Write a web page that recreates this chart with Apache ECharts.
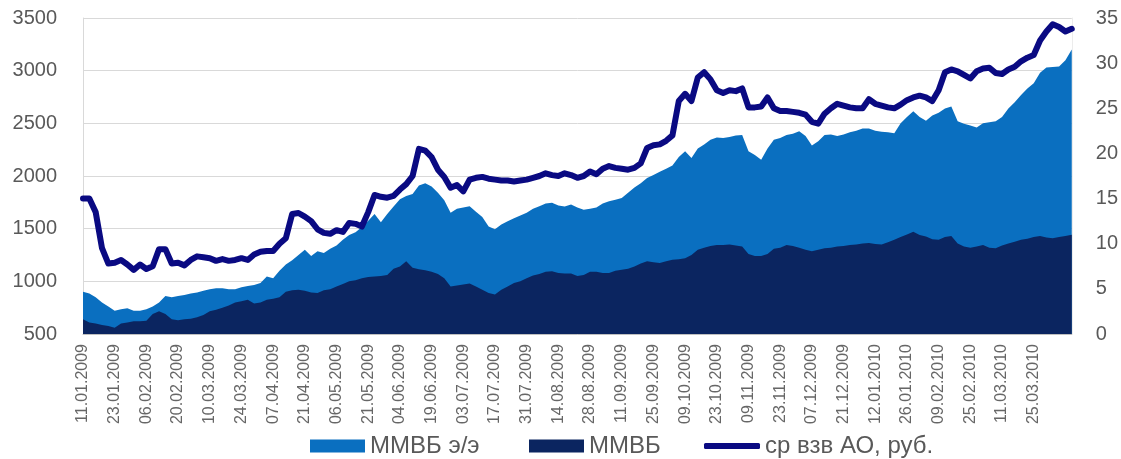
<!DOCTYPE html>
<html>
<head>
<meta charset="utf-8">
<script src="https://cdn.jsdelivr.net/npm/echarts@6/dist/echarts.min.js"></script>
<style>
html,body{margin:0;padding:0;background:#fff;}
#chart{width:1121px;height:459px;}
</style>
</head>
<body>
<div id="chart"></div>
<script>
// Tick labels (every 10 trading days); each data point = 2 trading days
const tickLabels = ['11.01.2009','23.01.2009','06.02.2009','20.02.2009','10.03.2009','24.03.2009','07.04.2009','21.04.2009','06.05.2009','21.05.2009','04.06.2009','19.06.2009','03.07.2009','17.07.2009','31.07.2009','14.08.2009','28.08.2009','11.09.2009','25.09.2009','09.10.2009','23.10.2009','09.11.2009','23.11.2009','07.12.2009','21.12.2009','12.01.2010','26.01.2010','09.02.2010','25.02.2010','11.03.2010','25.03.2010'];

const seriesNames = ['ММВБ э/э', 'ММВБ', 'ср взв АО, руб.'];

// ММВБ э/э (left axis)
const micexPower = [900,885,850,800,760,720,735,745,720,720,735,760,800,860,850,860,870,885,895,910,
925,935,935,925,925,945,955,965,985,1045,1030,1100,1160,1200,1250,1300,1240,1285,1270,1310,
1340,1395,1440,1465,1515,1575,1640,1560,1640,1710,1780,1810,1830,1910,1930,1900,1840,1770,1650,1690,
1700,1712,1660,1610,1520,1495,1540,1570,1600,1625,1650,1690,1712,1740,1745,1720,1710,1730,1700,1680,
1690,1700,1740,1760,1775,1790,1840,1890,1930,1980,2010,2040,2070,2100,2180,2235,2170,2260,2300,2345,
2365,2360,2370,2385,2390,2234,2200,2155,2260,2345,2360,2390,2400,2425,2380,2290,2330,2390,2395,2380,
2395,2415,2430,2450,2450,2430,2420,2415,2405,2500,2560,2614,2560,2525,2575,2600,2640,2660,2520,2495,
2480,2460,2500,2510,2520,2560,2640,2700,2770,2830,2880,2980,3030,3035,3040,3100,3200];

// ММВБ (left axis)
const micex = [640,610,600,585,575,560,600,610,620,620,625,690,715,690,640,630,640,645,660,680,
715,730,750,770,800,810,825,790,800,826,835,850,900,915,920,910,895,890,915,925,
950,975,1000,1010,1030,1040,1045,1050,1060,1120,1140,1190,1130,1115,1105,1090,1070,1030,950,960,
970,980,950,920,890,875,920,950,985,1000,1030,1055,1070,1090,1095,1080,1075,1075,1050,1060,
1090,1090,1080,1080,1100,1110,1120,1140,1170,1190,1180,1175,1190,1205,1210,1220,1250,1300,1320,1335,
1345,1345,1350,1340,1330,1260,1240,1240,1260,1310,1320,1345,1335,1320,1300,1285,1300,1315,1320,1330,
1335,1345,1350,1360,1365,1355,1350,1370,1395,1420,1445,1470,1440,1425,1400,1395,1420,1430,1360,1330,
1320,1330,1345,1320,1315,1340,1360,1375,1395,1405,1420,1430,1415,1410,1420,1430,1443];

// ср взв АО, руб. (right axis)
const avgPrice = [15.0,15.0,13.5,9.5,7.8,7.9,8.2,7.7,7.1,7.7,7.2,7.5,9.4,9.4,7.8,7.9,7.6,8.2,8.6,8.5,
8.4,8.1,8.3,8.1,8.2,8.4,8.2,8.8,9.1,9.2,9.2,10.0,10.6,13.3,13.4,13.0,12.5,11.6,11.2,11.1,
11.5,11.3,12.3,12.2,11.9,13.5,15.4,15.2,15.1,15.3,16.0,16.6,17.5,20.5,20.3,19.6,18.2,17.4,16.2,16.5,
15.8,17.1,17.3,17.4,17.2,17.1,17.0,17.0,16.9,17.0,17.1,17.3,17.5,17.8,17.6,17.5,17.8,17.6,17.3,17.5,
18.0,17.7,18.3,18.6,18.4,18.3,18.2,18.4,18.9,20.6,20.9,21.0,21.4,22.0,25.8,26.6,25.8,28.4,29.0,28.2,
27.0,26.7,27.0,26.9,27.2,25.1,25.1,25.2,26.2,25.0,24.7,24.7,24.6,24.5,24.3,23.5,23.3,24.4,25.0,25.5,
25.3,25.1,25.0,25.0,26.0,25.5,25.3,25.1,25.0,25.4,25.9,26.2,26.4,26.2,25.8,27.0,29.0,29.3,29.1,28.7,
28.3,29.1,29.4,29.5,28.9,28.8,29.3,29.6,30.2,30.6,30.9,32.5,33.5,34.3,34.0,33.5,33.8];

const POINTS_PER_TICK = 5;
const categories = micex.map((_, i) => (i % POINTS_PER_TICK === 0 && tickLabels[i / POINTS_PER_TICK]) ? tickLabels[i / POINTS_PER_TICK] : String(i));

const colLight = '#0a6fc0';
const colNavy = '#0b2560';
const colLine = '#0a0a82';
const txt = '#595959';
const fontFam = "'Liberation Sans', Arial, sans-serif";
const narrowFam = "'Liberation Sans Narrow', 'Liberation Sans', Arial, sans-serif";

const legendText = {color: txt, fontSize: 24, fontFamily: fontFam, lineHeight: 26};

const chart = echarts.init(document.getElementById('chart'), null, {renderer: 'canvas'});
chart.setOption({
  animation: false,
  backgroundColor: '#fff',
  grid: {left: 83, right: 47, top: 18, bottom: 125, containLabel: false},
  legend: [
    {data: [{name: seriesNames[0], icon: 'rect'}], left: 310, top: 433, padding: 0, itemWidth: 55, itemHeight: 13, textStyle: legendText},
    {data: [{name: seriesNames[1], icon: 'rect'}], left: 529, top: 433, padding: 0, itemWidth: 55, itemHeight: 13, textStyle: legendText},
    {data: [{name: seriesNames[2], icon: 'roundRect'}], left: 704, top: 433, padding: 0, itemWidth: 56, itemHeight: 6, textStyle: legendText}
  ],
  xAxis: {
    type: 'category',
    data: categories,
    boundaryGap: false,
    axisLine: {show: true, lineStyle: {color: '#bfbfbf'}},
    axisTick: {show: false},
    axisLabel: {
      interval: POINTS_PER_TICK - 1,
      rotate: 90,
      margin: 10,
      color: '#666',
      fontSize: 16,
      fontFamily: narrowFam,
      formatter: (v, idx) => idx % POINTS_PER_TICK === 0 ? (tickLabels[idx / POINTS_PER_TICK] || '') : ''
    },
    splitLine: {show: false}
  },
  yAxis: [
    {
      type: 'value', min: 500, max: 3500, interval: 500,
      axisLine: {show: true, lineStyle: {color: '#d9d9d9'}},
      axisTick: {show: false},
      axisLabel: {color: txt, fontSize: 20, fontFamily: fontFam, margin: 26, formatter: v => String(v)},
      splitLine: {show: true, lineStyle: {color: '#d9d9d9', width: 1}}
    },
    {
      type: 'value', min: 0, max: 35, interval: 5, position: 'right',
      axisLine: {show: true, lineStyle: {color: '#ececec'}},
      axisTick: {show: false},
      axisLabel: {color: txt, fontSize: 20, fontFamily: fontFam, margin: 24, formatter: v => String(v)},
      splitLine: {show: false}
    }
  ],
  series: [
    {
      name: seriesNames[0], type: 'line', yAxisIndex: 0, data: micexPower,
      showSymbol: false, symbol: 'none',
      lineStyle: {width: 0, color: colLight},
      itemStyle: {color: colLight},
      areaStyle: {color: colLight, opacity: 1, origin: 'start'}
    },
    {
      name: seriesNames[1], type: 'line', yAxisIndex: 0, data: micex,
      showSymbol: false, symbol: 'none',
      lineStyle: {width: 0, color: colNavy},
      itemStyle: {color: colNavy},
      areaStyle: {color: colNavy, opacity: 1, origin: 'start'}
    },
    {
      name: seriesNames[2], type: 'line', yAxisIndex: 1, data: avgPrice,
      showSymbol: false, symbol: 'none',
      lineStyle: {width: 6, color: colLine, join: 'round', cap: 'round'},
      itemStyle: {color: colLine}
    }
  ]
});
</script>
</body>
</html>
